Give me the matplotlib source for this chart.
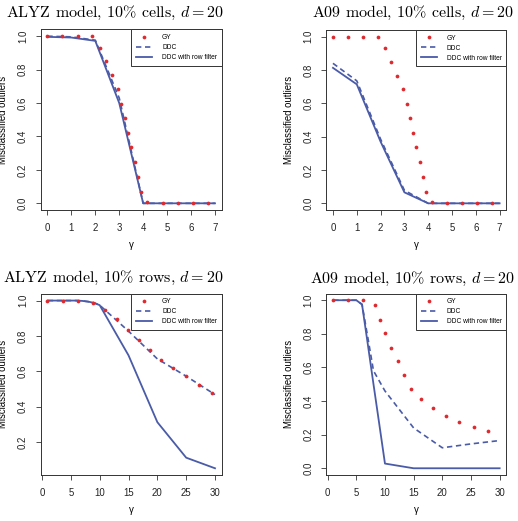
import numpy as np
import matplotlib

matplotlib.use("Agg")
import matplotlib.pyplot as plt
from matplotlib.legend_handler import HandlerLine2D
from matplotlib.lines import Line2D

plt.rcParams["font.family"] = ["Liberation Sans", "DejaVu Sans"]
plt.rcParams["mathtext.fontset"] = "cm"
plt.rcParams["axes.unicode_minus"] = False

RED = "#de2a2f"
BLUE = "#4a5ba8"

# ---- data ----
cells_gamma = [0, 1, 2, 3, 4, 5, 6, 7]
rows_gamma = [1, 2, 3, 4, 5, 6, 7, 8, 9, 10, 15, 20, 25, 30]

gy_cells_x = [0, 0.63, 1.26, 1.88, 2.2, 2.45, 2.7, 2.93, 3.09, 3.23,
              3.37, 3.5, 3.64, 3.77, 3.91, 4.18, 4.81, 5.44, 6.07, 6.7]
gy_cells_y = [1.0, 1.0, 1.0, 1.0, 0.93, 0.85, 0.766, 0.683, 0.597, 0.51,
              0.422, 0.335, 0.246, 0.157, 0.07, 0.008, 0.003, 0.0, 0.0, 0.0]

alyz_cells_ddc = [1.0, 0.996, 0.976, 0.63, 0.0, 0.0, 0.0, 0.0]
alyz_cells_ddcr = [0.996, 0.992, 0.972, 0.60, 0.0, 0.0, 0.0, 0.0]
a09_cells_ddc = [0.84, 0.735, 0.385, 0.078, 0.0, 0.0, 0.0, 0.0]
a09_cells_ddcr = [0.813, 0.714, 0.37, 0.066, 0.0, 0.0, 0.0, 0.0]

gy_alyz_rows_x = [0.93, 3.63, 6.22, 8.81, 11.0, 13.0, 14.86, 16.76, 18.65,
                  20.67, 22.8, 25.0, 27.3, 29.4]
gy_alyz_rows_y = [1.0, 1.0, 1.0, 0.987, 0.949, 0.893, 0.832, 0.776, 0.718,
                  0.663, 0.618, 0.572, 0.525, 0.476]
alyz_rows_ddc = [1.0, 1.0, 1.0, 1.0, 1.0, 1.0, 0.998, 0.994, 0.988, 0.974,
                 0.827, 0.67, 0.572, 0.468]
alyz_rows_ddcr = [1.0, 1.0, 1.0, 1.0, 1.0, 1.0, 0.998, 0.994, 0.987, 0.974,
                  0.69, 0.312, 0.111, 0.051]

gy_a09_rows_x = [0.93, 3.62, 6.21, 8.22, 9.14, 10.0, 11.1, 12.3, 13.4, 14.55,
                 16.3, 18.45, 20.6, 22.9, 25.5, 27.9]
gy_a09_rows_y = [1.0, 1.0, 1.0, 0.970, 0.883, 0.802, 0.718, 0.639, 0.556,
                 0.474, 0.415, 0.359, 0.31, 0.276, 0.246, 0.222]
a09_rows_ddc = [1.0, 1.0, 1.0, 1.0, 1.0, 0.975, 0.78, 0.58, 0.52, 0.46,
                0.24, 0.122, 0.145, 0.165]
a09_rows_ddcr = [1.0, 1.0, 1.0, 1.0, 1.0, 0.975, 0.74, 0.5, 0.265, 0.028,
                 0.0, 0.0, 0.0, 0.0]

titles = [
    "ALYZ model, 10% cells, $d = 20$",
    "A09 model, 10% cells, $d = 20$",
    "ALYZ model, 10% rows, $d = 20$",
    "A09 model, 10% rows, $d = 20$",
]


class LeftDot(HandlerLine2D):
    # R puts the legend point near the left of the key, not centred
    def get_xdata(self, legend, xdescent, ydescent, width, height, fontsize):
        xdata = np.array([-xdescent, -xdescent + width])
        return xdata, np.array([-xdescent + 0.2 * width])


W, H = 518, 521
fig = plt.figure(figsize=(W / 100, H / 100), dpi=100)


def box(l, t, r, b):
    return [l / W, 1 - b / H, (r - l) / W, (b - t) / H]


panels = [
    dict(rect=box(40.7, 29.5, 221.7, 210), gx=cells_gamma, gyx=gy_cells_x,
         gyy=gy_cells_y, ddc=alyz_cells_ddc, ddcr=alyz_cells_ddcr,
         xlim=(-0.28, 7.28), ylim=(-0.04, 1.04),
         xticks=range(0, 8), yticks=[0.0, 0.2, 0.4, 0.6, 0.8, 1.0],
         title_xy=(224, 17.3)),
    dict(rect=box(326.3, 30, 506.3, 210), gx=cells_gamma, gyx=gy_cells_x,
         gyy=gy_cells_y, ddc=a09_cells_ddc, ddcr=a09_cells_ddcr,
         xlim=(-0.28, 7.28), ylim=(-0.04, 1.04),
         xticks=range(0, 8), yticks=[0.0, 0.2, 0.4, 0.6, 0.8, 1.0],
         title_xy=(514.5, 17.3)),
    dict(rect=box(40.7, 293.5, 221.7, 475), gx=rows_gamma, gyx=gy_alyz_rows_x,
         gyy=gy_alyz_rows_y, ddc=alyz_rows_ddc, ddcr=alyz_rows_ddcr,
         xlim=(-0.23, 31.16), ylim=(0.013, 1.04),
         xticks=range(0, 31, 5), yticks=[0.2, 0.4, 0.6, 0.8, 1.0],
         title_xy=(224, 281.7)),
    dict(rect=box(326.3, 293.5, 506.3, 475), gx=rows_gamma, gyx=gy_a09_rows_x,
         gyy=gy_a09_rows_y, ddc=a09_rows_ddc, ddcr=a09_rows_ddcr,
         xlim=(-0.23, 31.16), ylim=(-0.04, 1.04),
         xticks=range(0, 31, 5), yticks=[0.0, 0.2, 0.4, 0.6, 0.8, 1.0],
         title_xy=(515, 282.5)),
]

for p, title in zip(panels, titles):
    ax = fig.add_axes(p["rect"])
    ax.plot(p["gyx"], p["gyy"], "o", color=RED, ms=2.7, mew=0, label="GY",
            zorder=3)
    ax.plot(p["gx"], p["ddc"], color=BLUE, lw=1.2, dashes=(3.2, 2.2),
            label="DDC")
    ax.plot(p["gx"], p["ddcr"], color=BLUE, lw=1.3,
            label="DDC with row filter")

    ax.set_xlim(*p["xlim"])
    ax.set_ylim(*p["ylim"])
    ax.set_xticks(list(p["xticks"]))
    ax.set_yticks(p["yticks"])
    ax.set_yticklabels([f"{v:.1f}" for v in p["yticks"]])
    ax.tick_params(direction="out", length=3.6, width=0.6, labelsize=6.9,
                   pad=5.5, color="#333333", labelcolor="#222222")
    ax.tick_params(axis="y", labelrotation=90)
    for lab in ax.get_yticklabels():
        lab.set_va("center")
    for s in ax.spines.values():
        s.set_linewidth(0.7)
        s.set_color("#333333")

    ax.set_xlabel("γ", fontsize=7)
    ax.xaxis.set_label_coords(0.5, -0.165)
    ax.set_ylabel("Misclassified outliers", fontsize=6.9)
    ax.yaxis.set_label_coords(-0.178, 0.5)

    leg = ax.legend(loc="upper right", borderaxespad=0, fontsize=4.8,
                    fancybox=False, framealpha=1, edgecolor="#333333",
                    handlelength=2.4, handletextpad=1.5, labelspacing=0.45,
                    borderpad=0.7, numpoints=1,
                    handler_map={Line2D: LeftDot()})
    leg.get_frame().set_linewidth(0.7)

    tx, ty = p["title_xy"]
    fig.text(tx / W, 1 - ty / H, title, ha="right", va="baseline",
             fontsize=11.5, family="cmr10")

fig.savefig("out.png", dpi=100)
